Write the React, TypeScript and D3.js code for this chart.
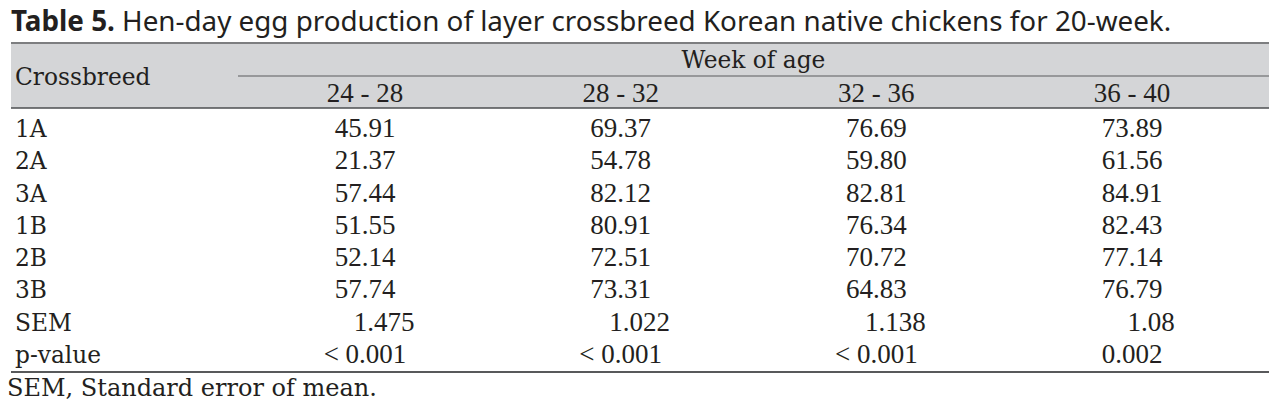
import React from 'react';
import { scalePoint, scaleLinear } from 'd3';

const width = 1288;
const height = 415;

const periods = ['24 - 28', '28 - 32', '32 - 36', '36 - 40'];
const breeds = ['1A', '2A', '3A', '1B', '2B', '3B'];
const v2428 = ['45.91', '21.37', '57.44', '51.55', '52.14', '57.74'];
const v2832 = ['69.37', '54.78', '82.12', '80.91', '72.51', '73.31'];
const v3236 = ['76.69', '59.80', '82.81', '76.34', '70.72', '64.83'];
const v3640 = ['73.89', '61.56', '84.91', '82.43', '77.14', '76.79'];
const sem = ['1.475', '1.022', '1.138', '1.08'];
const pValues = ['< 0.001', '< 0.001', '< 0.001', '0.002'];

const table = { left: 11, right: 1269, top: 43, subLine: 76, headBottom: 108, bottom: 372 };
// digits read narrow, words read wide in the original -> two serif faces
const numFont = '"Liberation Serif", serif';
const wordFont = '"DejaVu Serif", serif';
const textColor = '#231f20';

const App = () => {
  const rows = [
    ...breeds.map((b, i) => ({ label: b, cells: [v2428[i], v2832[i], v3236[i], v3640[i]], shift: 0 })),
    { label: 'SEM', cells: sem, shift: 19 },
    { label: 'p-value', cells: pValues, shift: 0 },
  ];

  const xScale = scalePoint<string>()
    .domain(periods)
    .range([365, 1132]);

  const yScale = scaleLinear()
    .domain([0, rows.length - 1])
    .range([137, 363]);

  return (
    <svg width={width} height={height} style={{ position: 'absolute', left: 0, top: 0 }}>
      <rect width={width} height={height} fill="#fff" />
      <text x={11} y={31} fontFamily='"Noto Sans", sans-serif' fontSize={27.8} fill={textColor}>
        <tspan fontWeight="bold">Table 5.</tspan> Hen-day egg production of layer crossbreed Korean native chickens for 20-week.
      </text>

      <rect
        x={table.left}
        y={table.top}
        width={table.right - table.left}
        height={table.headBottom - table.top}
        fill="#d4d5d7"
      />
      <line x1={table.left} x2={table.right} y1={table.top} y2={table.top} stroke="#7d7e80" strokeWidth={2} />
      <line x1={238} x2={table.right} y1={table.subLine} y2={table.subLine} stroke="#5b5c5e" strokeWidth={1.2} />
      <line x1={table.left} x2={table.right} y1={table.headBottom} y2={table.headBottom} stroke="#4d4e50" strokeWidth={1.5} />
      <line x1={table.left} x2={table.right} y1={table.bottom} y2={table.bottom} stroke="#58595b" strokeWidth={2} />

      <g fill={textColor}>
        <g fontFamily={wordFont} fontSize={23.3}>
          <text x={15} y={85}>Crossbreed</text>
          <text x={(238 + table.right) / 2} y={68} textAnchor="middle">Week of age</text>
          {rows.map((r, i) => (
            <text key={r.label} x={15} y={yScale(i)}>{r.label}</text>
          ))}
          <text x={7} y={396} fontSize={24}>SEM, Standard error of mean.</text>
        </g>

        <g fontFamily={numFont} fontSize={27}>
          {periods.map(p => (
            <text key={p} x={xScale(p)} y={102} textAnchor="middle">{p}</text>
          ))}
          {rows.map((r, i) => (
            <g key={r.label}>
              {r.cells.map((c, j) => (
                <text key={j} x={(xScale(periods[j]) || 0) + r.shift} y={yScale(i)} textAnchor="middle">{c}</text>
              ))}
            </g>
          ))}
        </g>
      </g>
    </svg>
  );
};

export default App;
